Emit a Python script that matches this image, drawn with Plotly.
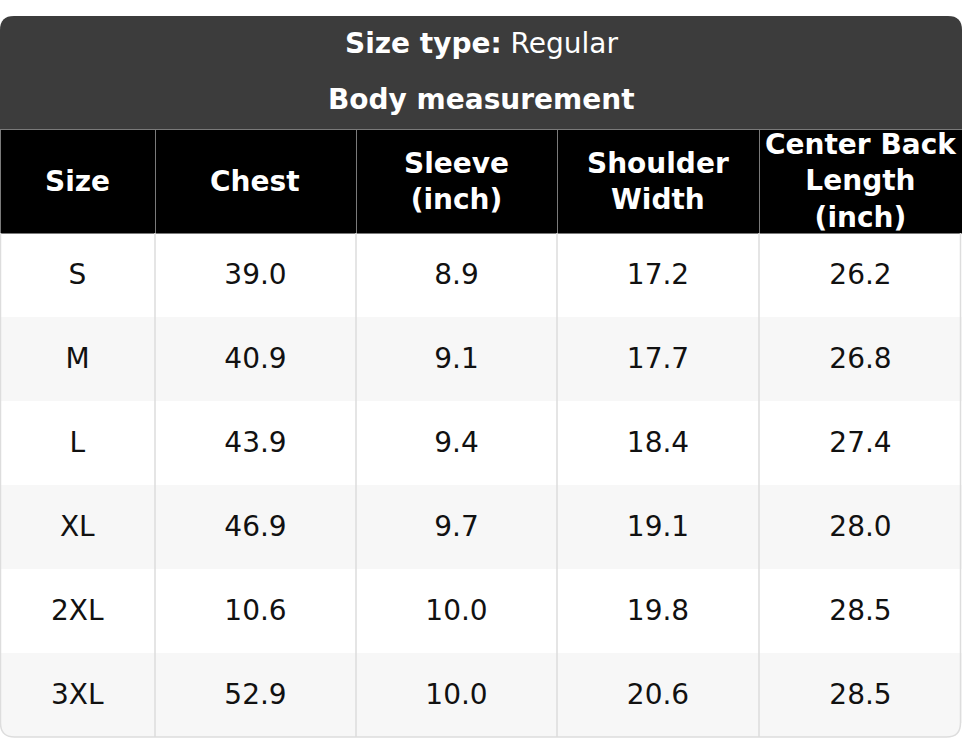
import plotly.graph_objects as go

W, H = 962, 739

# data
columns = ["Size", "Chest", "Sleeve<br>(inch)", "Shoulder<br>Width", "Center Back<br>Length<br>(inch)"]
sizes = ["S", "M", "L", "XL", "2XL", "3XL"]
chest = [39.0, 40.9, 43.9, 46.9, 10.6, 52.9]
sleeve = [8.9, 9.1, 9.4, 9.7, 10.0, 10.0]
shoulder = [17.2, 17.7, 18.4, 19.1, 19.8, 20.6]
center_back = [26.2, 26.8, 27.4, 28.0, 28.5, 28.5]
col_widths = [155, 201, 201, 202, 203]

title_top, title_bottom = 16, 129
row_h, head_h = 84, 104
radius = 14
font = "DejaVu Sans"
fs = 28
line_fs = 26.2   # cell font: sets the gap after the small first line
dot_fs = 10      # size of the invisible first line


def px(x):
    return x / W


def py(y):
    return 1 - y / H


def cell_text(vals, fmt):
    # invisible first line pushes the value down to the middle of the row
    return [("<span style='font-size:%dpx;color:rgba(0,0,0,0)'>.</span><br>"
             "<span style='font-size:%dpx'>%s</span>") % (dot_fs, fs, fmt % v) for v in vals]


row_fill = ["#ffffff" if i % 2 == 0 else "#f7f7f7" for i in range(len(sizes))]

fig = go.Figure()

fig.add_trace(go.Table(
    domain=dict(x=[0, 1], y=[0, py(title_bottom)]),
    columnwidth=col_widths,
    header=dict(
        values=["" for c in columns],
        fill_color="#000000",
        line=dict(color="#7a7a7a", width=1),
        font=dict(family=font, size=fs, color="white"),
        height=head_h,
    ),
    cells=dict(
        values=[cell_text(sizes, "%s"), cell_text(chest, "%.1f"), cell_text(sleeve, "%.1f"),
                cell_text(shoulder, "%.1f"), cell_text(center_back, "%.1f")],
        fill_color=[row_fill] * 5,
        line=dict(color=[row_fill] * 5, width=0),
        font=dict(family=font, size=line_fs, color="#111111"),
        align="center",
        height=row_h,
    ),
))

shapes = []
# dark title band with rounded top corners
x0, x1, y0, y1 = 0, W, title_top, title_bottom + 1
r = radius
shapes.append(dict(
    type="path", xref="paper", yref="paper", layer="below",
    path="M %f,%f L %f,%f Q %f,%f %f,%f L %f,%f Q %f,%f %f,%f L %f,%f Z" % (
        px(x0), py(y1), px(x0), py(y0 + r), px(x0), py(y0), px(x0 + r), py(y0),
        px(x1 - r), py(y0), px(x1), py(y0), px(x1), py(y0 + r), px(x1), py(y1)),
    fillcolor="#3c3c3c", line=dict(width=0),
))

# column separators from the widths
total = sum(col_widths)
edge = 0
body_top = title_bottom + head_h
body_bottom = body_top + row_h * len(sizes)
centers = []
for w in col_widths:
    centers.append((edge + w / 2) * W / total)
    edge += w
    if edge >= total:
        break
    xe = px(edge * W / total)
    shapes.append(dict(type="line", xref="paper", yref="paper", layer="above",
                       x0=xe, x1=xe, y0=py(body_top), y1=py(body_bottom),
                       line=dict(color="#dddddd", width=1.5)))

# white corners + light outline round the bottom of the table
bx0, bx1, by = 0.5, W - 1.5, body_bottom
for cx, sx in [(bx0, 1), (bx1, -1)]:
    shapes.append(dict(
        type="path", xref="paper", yref="paper", layer="above",
        path="M %f,%f L %f,%f L %f,%f L %f,%f Q %f,%f %f,%f Z" % (
            px(cx - sx * 2), py(by - r), px(cx - sx * 2), py(by + 3), px(cx + sx * r), py(by + 3),
            px(cx + sx * r), py(by), px(cx), py(by), px(cx), py(by - r)),
        fillcolor="white", line=dict(width=0),
    ))
shapes.append(dict(
    type="path", xref="paper", yref="paper", layer="above",
    path="M %f,%f L %f,%f Q %f,%f %f,%f L %f,%f Q %f,%f %f,%f L %f,%f" % (
        px(bx0), py(body_top), px(bx0), py(by - r), px(bx0), py(by), px(bx0 + r), py(by),
        px(bx1 - r), py(by), px(bx1), py(by), px(bx1), py(by - r), px(bx1), py(body_top)),
    line=dict(color="#dddddd", width=1.5),
))

annotations = [
    dict(text="<b>Size type:</b> Regular", xref="paper", yref="paper",
         x=0.5, y=py(43), xanchor="center", yanchor="middle", showarrow=False,
         font=dict(family=font, size=fs, color="white")),
    dict(text="<b>Body measurement</b>", xref="paper", yref="paper",
         x=0.5, y=py(99), xanchor="center", yanchor="middle", showarrow=False,
         font=dict(family=font, size=fs, color="white")),
]
for c, xc in zip(columns, centers):
    annotations.append(dict(
        text="<b>%s</b>" % c, xref="paper", yref="paper",
        x=px(xc), y=py(title_bottom + head_h / 2), xanchor="center", yanchor="middle",
        showarrow=False, font=dict(family=font, size=fs, color="white")))

fig.update_layout(
    width=W, height=H,
    margin=dict(l=0, r=0, t=0, b=0),
    paper_bgcolor="white",
    shapes=shapes,
    annotations=annotations,
)

fig.write_html("out.html", config={"displayModeBar": False},
               post_script="document.body.style.margin='0px';")
